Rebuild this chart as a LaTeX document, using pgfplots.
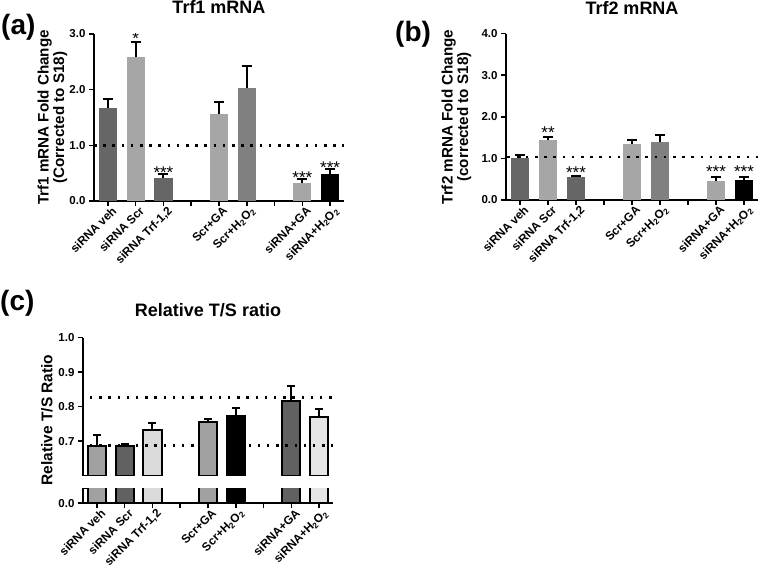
\documentclass[border=0pt]{standalone}
\usepackage{pgfplots}
\pgfplotsset{compat=1.18}
\usepackage{fontspec}
\setmainfont{Liberation Sans}
\newcommand\ff[1]{\fontsize{#1bp}{#1bp}\selectfont\bfseries}
\definecolor{gD}{gray}{0.40}
\definecolor{gL}{gray}{0.65}
\definecolor{gM}{gray}{0.50}
\definecolor{cL}{gray}{0.63}
\definecolor{cD}{gray}{0.38}
\definecolor{cV}{gray}{0.86}
\definecolor{cW}{gray}{0.90}
\tikzset{star/.style={font=\fontsize{17bp}{17bp}\selectfont, anchor=base, inner sep=0pt}}
\pgfplotsset{
  panel/.style={
    scale only axis,
    axis x line*=bottom, axis y line*=left,
    axis line style={line width=2bp, black},
    xmin=-0.5, xmax=8.5,
    xtick={0,...,8},
    xticklabels={siRNA veh,siRNA Scr,{siRNA Trf-1,2},{},Scr+GA,Scr+H\textsubscript{2}O\textsubscript{2},{},siRNA+GA,siRNA+H\textsubscript{2}O\textsubscript{2}},
    xticklabel style={rotate=45, anchor=north east, font=\ff{11.8}, inner sep=1bp, xshift=3.5bp, yshift=-1bp},
    yticklabel style={font=\ff{11.5}, /pgf/number format/.cd, fixed, fixed zerofill, precision=1, assume math mode=true},
    tick style={line width=1.6bp, black},
    major tick length=5bp,
    tick align=outside,
    ybar, bar width=0.66,
  },
  eb/.style={bar shift=0pt, error bars/.cd, y dir=plus, y explicit,
    error bar style={draw=black, line width=2bp},
    error mark options={rotate=90, draw=black, line width=2bp, mark size=#1}},
  eb/.default=5bp,
  dotline/.style={sharp plot, mark=none, black, line width=2.5bp, dash pattern=on 2.5bp off 6.7bp},
}
\begin{document}
\begin{tikzpicture}[x=1bp,y=1bp]
\path[use as bounding box] (0,0) rectangle (762,574);

% ---------- Panel (a)
\begin{axis}[panel, at={(94bp,373bp)}, anchor=south west, width=250bp, height=167bp,
  ymin=0, ymax=3, ytick={0,1,2,3}]
\addplot[fill=gD, draw=none, eb] coordinates {(0,1.67) +- (0,0.16)};
\addplot[fill=gL, draw=none, eb] coordinates {(1,2.58) +- (0,0.27)};
\addplot[fill=gD, draw=none, eb] coordinates {(2,0.42) +- (0,0.06)};
\addplot[fill=gL, draw=none, eb] coordinates {(4,1.56) +- (0,0.21)};
\addplot[fill=gM, draw=none, eb] coordinates {(5,2.03) +- (0,0.40)};
\addplot[fill=gL, draw=none, eb] coordinates {(7,0.33) +- (0,0.06)};
\addplot[fill=black, draw=none, eb] coordinates {(8,0.49) +- (0,0.08)};
\addplot[dotline] coordinates {(-0.5,1) (8.5,1)};
\node[star, yshift=-2.3bp] at (axis cs:1,2.85) {*};
\node[star, yshift=-4bp] at (axis cs:2,0.48) {***};
\node[star, yshift=-4bp] at (axis cs:7,0.39) {***};
\node[star, yshift=-4.7bp] at (axis cs:8,0.57) {***};
\end{axis}

% ---------- Panel (b)
\begin{axis}[panel, at={(506bp,374bp)}, anchor=south west, width=252bp, height=166.3bp,
  ymin=0, ymax=4, ytick={0,1,2,3,4}]
\addplot[fill=gD, draw=none, eb] coordinates {(0,1.01) +- (0,0.08)};
\addplot[fill=gL, draw=none, eb] coordinates {(1,1.44) +- (0,0.08)};
\addplot[fill=gD, draw=none, eb] coordinates {(2,0.55) +- (0,0.03)};
\addplot[fill=gL, draw=none, eb] coordinates {(4,1.35) +- (0,0.09)};
\addplot[fill=gM, draw=none, eb] coordinates {(5,1.39) +- (0,0.17)};
\addplot[fill=gL, draw=none, eb] coordinates {(7,0.45) +- (0,0.10)};
\addplot[fill=black, draw=none, eb] coordinates {(8,0.48) +- (0,0.07)};
\addplot[dotline] coordinates {(-0.45,1.04) (8.5,1.04)};
\node[star, yshift=-1.3bp] at (axis cs:1,1.52) {**};
\node[star, yshift=-2.3bp] at (axis cs:2,0.58) {***};
\node[star] at (axis cs:7,0.55) {***};
\node[star] at (axis cs:8,0.55) {***};
\end{axis}

% ---------- Panel (c) upper segment
\begin{axis}[panel, at={(83bp,98.3bp)}, anchor=south west, width=250bp, height=138bp,
  axis x line=none, xtick=\empty,
  ymin=0.6, ymax=1.0, ytick={0.7,0.8,0.9,1.0}]
\addplot[fill=cL, draw=black, line width=2bp, eb=4bp] coordinates {(0,0.687) +- (0,0.031)};
\addplot[fill=cD, draw=black, line width=2bp, eb=4bp] coordinates {(1,0.686) +- (0,0.006)};
\addplot[fill=cV, draw=black, line width=2bp, eb=4bp] coordinates {(2,0.733) +- (0,0.019)};
\addplot[fill=cL, draw=black, line width=2bp, eb=4bp] coordinates {(4,0.755) +- (0,0.009)};
\addplot[fill=black, draw=black, line width=2bp, eb=4bp] coordinates {(5,0.772) +- (0,0.025)};
\addplot[fill=cD, draw=black, line width=2bp, eb=4bp] coordinates {(7,0.817) +- (0,0.042)};
\addplot[fill=cW, draw=black, line width=2bp, eb=4bp] coordinates {(8,0.770) +- (0,0.024)};
\addplot[dotline] coordinates {(-0.25,0.827) (8.5,0.827)};
\addplot[dotline] coordinates {(-0.25,0.687) (3.65,0.687)};
\addplot[dotline] coordinates {(5.46,0.687) (8.5,0.687)};
\draw[line width=2bp] ([xshift=-3.5bp]rel axis cs:0,0) -- ([xshift=3.5bp]rel axis cs:0,0);
\end{axis}

% ---------- Panel (c) lower segment
\begin{axis}[panel, at={(83bp,70.7bp)}, anchor=south west, width=250bp, height=15bp,
  ymin=0, ymax=0.1, ytick={0}]
\addplot[fill=cL, draw=black, line width=2bp, bar shift=0pt] coordinates {(0,0.687)};
\addplot[fill=cD, draw=black, line width=2bp, bar shift=0pt] coordinates {(1,0.686)};
\addplot[fill=cV, draw=black, line width=2bp, bar shift=0pt] coordinates {(2,0.733)};
\addplot[fill=cL, draw=black, line width=2bp, bar shift=0pt] coordinates {(4,0.755)};
\addplot[fill=black, draw=black, line width=2bp, bar shift=0pt] coordinates {(5,0.772)};
\addplot[fill=cD, draw=black, line width=2bp, bar shift=0pt] coordinates {(7,0.817)};
\addplot[fill=cW, draw=black, line width=2bp, bar shift=0pt] coordinates {(8,0.770)};
\draw[line width=2bp] ([xshift=-3.5bp]rel axis cs:0,1) -- ([xshift=3.5bp]rel axis cs:0,1);
\end{axis}

% ---------- texts
\node[font=\ff{18}, anchor=base] at (219,560) {Trf1 mRNA};
\node[font=\ff{18}, anchor=base] at (632,559) {Trf2 mRNA};
\node[font=\ff{18}, anchor=base] at (208,257) {Relative T/S ratio};
\node[font=\ff{28}, anchor=base west, inner sep=0pt] at (1,539) {(a)};
\node[font=\ff{28}, anchor=base west, inner sep=0pt] at (395,532) {(b)};
\node[font=\ff{28}, anchor=base west, inner sep=0pt] at (0,263) {(c)};
\node[rotate=90, align=center, font=\fontsize{15.2bp}{15.5bp}\selectfont\bfseries] at (52.5,456.5) {Trf1 mRNA Fold Change\\(Corrected to S18)};
\node[rotate=90, align=center, font=\fontsize{15.2bp}{15.5bp}\selectfont\bfseries] at (456.5,457) {Trf2 mRNA Fold Change\\(corrected to S18)};
\node[rotate=90, font=\ff{15.5}] at (47,154) {Relative T/S Ratio};
\end{tikzpicture}
\end{document}
